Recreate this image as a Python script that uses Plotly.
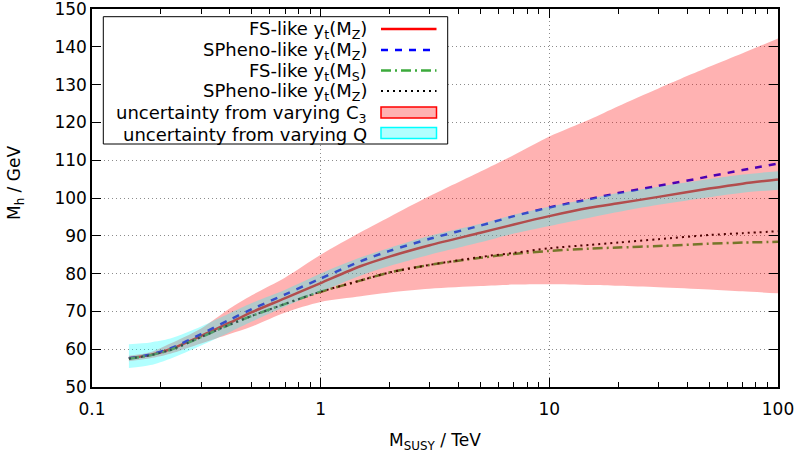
import plotly.graph_objects as go

# ---------------- data ----------------
m_susy = [0.145, 0.18, 0.22, 0.3, 0.4, 0.5, 0.7, 1, 1.5, 2, 3, 5, 7, 10, 15, 20, 30, 50, 70, 100]

fs_yt_mz = [57.6, 58.5, 60.0, 63.5, 67.0, 69.8, 73.5, 77.5, 82.0, 84.5, 87.5, 90.8, 93.0, 95.2, 97.4, 98.6, 100.3, 102.5, 103.8, 104.9]
spheno_yt_mz = [57.6, 58.6, 60.2, 64.0, 67.8, 70.6, 74.5, 78.7, 83.3, 86.0, 89.2, 92.7, 95.2, 97.5, 99.7, 101.3, 103.2, 105.7, 107.4, 109.1]
fs_yt_ms = [57.5, 58.4, 59.8, 63.2, 66.5, 68.8, 72.0, 75.2, 78.2, 80.3, 82.3, 84.2, 85.2, 86.0, 86.6, 86.9, 87.3, 87.9, 88.2, 88.4]
spheno_yt_ms = [57.5, 58.4, 59.8, 63.2, 66.5, 68.8, 72.0, 75.2, 78.2, 80.3, 82.3, 84.4, 85.5, 86.7, 87.6, 88.2, 89.1, 90.2, 90.7, 91.2]

c3_upper = [58.3, 59.2, 61.5, 65.5, 70.8, 74.3, 79.0, 85.0, 91.0, 95.0, 100.5, 107.0, 111.4, 116.3, 120.8, 124.3, 129.0, 134.7, 138.3, 142.2]
c3_lower = [56.8, 57.6, 58.8, 61.5, 64.0, 66.0, 69.7, 72.5, 74.0, 75.0, 76.0, 76.7, 77.1, 77.2, 77.0, 76.8, 76.4, 75.8, 75.3, 74.8]

q_upper = [61.3, 61.8, 62.8, 66.0, 69.5, 72.2, 75.7, 80.0, 84.3, 86.8, 90.0, 93.2, 95.6, 97.7, 99.8, 101.3, 103.0, 105.0, 106.2, 107.1]
q_lower = [55.0, 55.8, 57.5, 61.0, 64.5, 67.3, 71.3, 75.2, 79.5, 82.0, 85.0, 88.3, 90.6, 92.6, 94.8, 96.3, 98.2, 100.2, 101.4, 102.2]

x_tickvals = [0.1, 1, 10, 100]
x_ticktext = ["0.1", "1", "10", "100"]
x_minor = [0.2, 0.3, 0.4, 0.5, 0.6, 0.7, 0.8, 0.9, 2, 3, 4, 5, 6, 7, 8, 9, 20, 30, 40, 50, 60, 70, 80, 90]
y_tickvals = [50, 60, 70, 80, 90, 100, 110, 120, 130, 140, 150]

legend_labels = [
    "FS-like y<sub>t</sub>(M<sub>Z</sub>)",
    "SPheno-like y<sub>t</sub>(M<sub>Z</sub>)",
    "FS-like y<sub>t</sub>(M<sub>S</sub>)",
    "SPheno-like y<sub>t</sub>(M<sub>Z</sub>)",
    "uncertainty from varying C<sub>3</sub>",
    "uncertainty from varying Q",
]

# ---------------- styles ----------------
FONT = "DejaVu Sans"
RED = "rgb(255,0,0)"
BLUE = "rgb(0,0,255)"
GREEN = "rgb(60,170,60)"
BLACK = "rgb(0,0,0)"
C3_FILL = "rgba(255,0,0,0.3)"
Q_FILL = "rgba(0,255,255,0.3)"

W, H = 795, 455
L, R, T, B = 92, 17, 9, 68
PW, PH = W - L - R, H - T - B


def px(x):
    return (x - L) / PW


def py(y):
    return (H - B - y) / PH


fig = go.Figure()

line_specs = [
    (fs_yt_mz, RED, "solid", 2.5),
    (spheno_yt_mz, BLUE, "7px,7px", 2.5),
    (fs_yt_ms, GREEN, "10px,4px,2px,4px", 2.5),
    (spheno_yt_ms, BLACK, "2px,4px", 2),
]
for ys, col, dash, w in line_specs:
    fig.add_trace(go.Scatter(x=m_susy, y=ys, mode="lines",
                             line=dict(color=col, width=w, dash=dash, shape="spline", smoothing=0.8),
                             hoverinfo="skip", showlegend=False))

for lo, hi, fc in [(c3_lower, c3_upper, C3_FILL), (q_lower, q_upper, Q_FILL)]:
    fig.add_trace(go.Scatter(x=m_susy, y=lo, mode="lines",
                             line=dict(width=0, shape="spline", smoothing=0.8),
                             hoverinfo="skip", showlegend=False))
    fig.add_trace(go.Scatter(x=m_susy, y=hi, mode="lines", fill="tonexty", fillcolor=fc,
                             line=dict(width=0, shape="spline", smoothing=0.8),
                             hoverinfo="skip", showlegend=False))

# ---------------- manual legend (gnuplot style: text right, sample after) ----------------
shapes = []
annotations = []
shapes.append(dict(type="rect", xref="paper", yref="paper",
                   x0=px(103.3), x1=px(447.7), y0=py(144), y1=py(16.7),
                   line=dict(color="black", width=1), fillcolor="white", layer="above"))
row_y = [29, 50, 70.5, 91, 112.5, 133]
samp_x0, samp_x1 = 381, 436.5
legend_lines = [(RED, "solid", 2.5), (BLUE, "7px,7px", 2.5), (GREEN, "10px,4px,2px,4px", 2.5), (BLACK, "2px,4px", 2)]
for i, lab in enumerate(legend_labels):
    annotations.append(dict(xref="paper", yref="paper", x=px(368.5), y=py(row_y[i] + 1),
                            xanchor="right", yanchor="middle", showarrow=False, text=lab,
                            font=dict(family=FONT, size=18, color="black")))
    if i < 4:
        col, dash, w = legend_lines[i]
        shapes.append(dict(type="line", xref="paper", yref="paper",
                           x0=px(samp_x0), x1=px(samp_x1), y0=py(row_y[i]), y1=py(row_y[i]),
                           line=dict(color=col, width=w, dash=dash), layer="above"))
    else:
        fc, lc = (C3_FILL, RED) if i == 4 else (Q_FILL, "rgb(0,255,255)")
        shapes.append(dict(type="rect", xref="paper", yref="paper",
                           x0=px(samp_x0), x1=px(samp_x1), y0=py(row_y[i] + 5.5), y1=py(row_y[i] - 5.5),
                           line=dict(color=lc, width=1.5), fillcolor=fc, layer="above"))

# axis titles
annotations.append(dict(xref="paper", yref="paper", x=px(435), y=py(441),
                        xanchor="center", yanchor="middle", showarrow=False,
                        text="M<sub>SUSY</sub> / TeV", font=dict(family=FONT, size=17, color="black")))
annotations.append(dict(xref="paper", yref="paper", x=px(15), y=py(183),
                        xanchor="center", yanchor="middle", showarrow=False, textangle=-90,
                        text="M<sub>h</sub> / GeV", font=dict(family=FONT, size=17, color="black")))

GRID = dict(showgrid=True, gridcolor="#8c8c8c", gridwidth=1, griddash="1px,3px")

fig.update_layout(
    width=W, height=H,
    margin=dict(l=L, r=R, t=T, b=B, autoexpand=False),
    paper_bgcolor="white", plot_bgcolor="white",
    showlegend=False,
    font=dict(family=FONT, size=17, color="black"),
    shapes=shapes, annotations=annotations,
    xaxis=dict(type="log", range=[-1, 2], tickmode="array", tickvals=x_tickvals, ticktext=x_ticktext,
               ticks="inside", ticklen=9, tickwidth=1, tickcolor="black",
               showline=True, linecolor="black", linewidth=1.5, mirror="allticks",
               zeroline=False, automargin=False, ticklabeloverflow="allow", ticklabelstandoff=6,
               tickfont=dict(family=FONT, size=17, color="black"),
               minor=dict(tickmode="array", tickvals=x_minor, ticks="inside", ticklen=5,
                          tickcolor="black", showgrid=False),
               **GRID),
    yaxis=dict(range=[50, 150], tickmode="array", tickvals=y_tickvals,
               ticks="inside", ticklen=9, tickwidth=1, tickcolor="black",
               showline=True, linecolor="black", linewidth=1.5, mirror="allticks",
               zeroline=False, automargin=False, ticklabeloverflow="allow",
               tickfont=dict(family=FONT, size=17, color="black"),
               **GRID),
)

fig.write_html("out.html", config={"displayModeBar": False},
               post_script="document.body.style.margin='0';document.body.style.overflow='hidden';")
